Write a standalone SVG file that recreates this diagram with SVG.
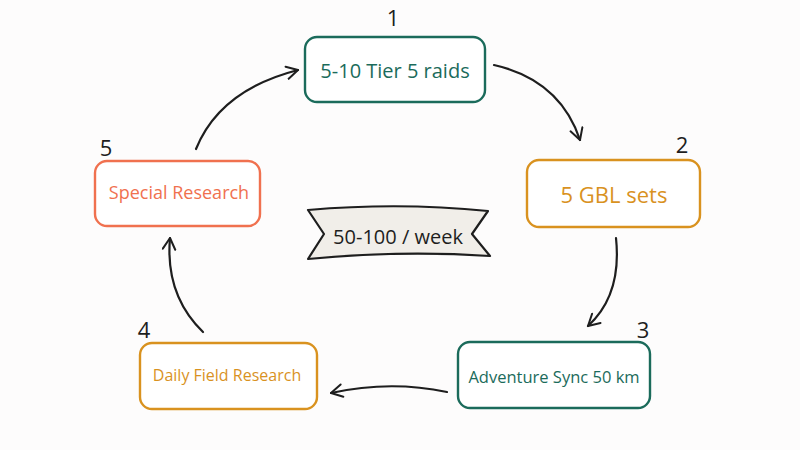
<svg xmlns="http://www.w3.org/2000/svg" width="800" height="450" viewBox="0 0 800 450">
<defs>
<style>
.box{fill:#ffffff;stroke-width:2.4}
.green{stroke:#1b6b5b}
.orange{stroke:#d9921f}
.coral{stroke:#f0714f}
.t{font-family:"Open Sans","Liberation Sans",sans-serif;font-size:19px;text-anchor:middle;dominant-baseline:central}
.tg{fill:#1b6b5b}.to{fill:#d9921f}.tc{fill:#f0714f}
.num{font-family:"Open Sans","Liberation Sans",sans-serif;font-size:22px;fill:#1e1e1e;text-anchor:middle}
.conn{fill:none;stroke:#1e1e1e;stroke-width:2.2;stroke-linecap:round}
</style>
<marker id="ah" viewBox="0 0 12 12" refX="10" refY="6" markerWidth="15" markerHeight="15" markerUnits="userSpaceOnUse" orient="auto">
<path d="M1,1 L10,6 L1,11" fill="none" stroke="#1e1e1e" stroke-width="1.6" stroke-linecap="round" stroke-linejoin="round"/>
</marker>
</defs>
<rect width="800" height="450" fill="#fdfcfc"/>
<g id="connectors">
<path class="conn" d="M494,65 Q560,80 580,140" marker-end="url(#ah)"/>
<path class="conn" d="M616,238 Q622,295 588,326" marker-end="url(#ah)"/>
<path class="conn" d="M447,392 Q390,380 331,393" marker-end="url(#ah)"/>
<path class="conn" d="M203,332 Q165,295 170,238" marker-end="url(#ah)"/>
<path class="conn" d="M196,149 Q220,90 298,70" marker-end="url(#ah)"/>
</g>
<g id="node1">
<rect class="box green" x="305" y="37" width="180" height="65" rx="12"/>
<text class="t tg" x="395" y="70" style="font-size:20px">5-10 Tier 5 raids</text>
<text class="num" x="393" y="26">1</text>
</g>
<g id="node2">
<rect class="box orange" x="527" y="160" width="173" height="67" rx="12"/>
<text class="t to" x="614" y="194" style="font-size:22px">5 GBL sets</text>
<text class="num" x="682" y="153">2</text>
</g>
<g id="node3">
<rect class="box green" x="458" y="342" width="192" height="66" rx="12"/>
<text class="t tg" x="554" y="376" style="font-size:16.5px">Adventure Sync 50 km</text>
<text class="num" x="643" y="338">3</text>
</g>
<g id="node4">
<rect class="box orange" x="140" y="343" width="177" height="66" rx="12"/>
<text class="t to" x="227" y="375" style="font-size:16px">Daily Field Research</text>
<text class="num" x="144" y="338">4</text>
</g>
<g id="node5">
<rect class="box coral" x="95" y="161" width="165" height="65" rx="12"/>
<text class="t tc" x="179" y="192" style="font-size:18px">Special Research</text>
<text class="num" x="106" y="156">5</text>
</g>
<g id="banner">
<path d="M308,210 Q400,202 488,211 L472,234 L490,256 Q400,250 308,259 L324,234 Z" fill="#f1eee9" stroke="#1e1e1e" stroke-width="2.2" stroke-linejoin="round"/>
<text class="t" x="398" y="236" fill="#1e1e1e" style="font-size:20px">50-100 / week</text>
</g>
</svg>
